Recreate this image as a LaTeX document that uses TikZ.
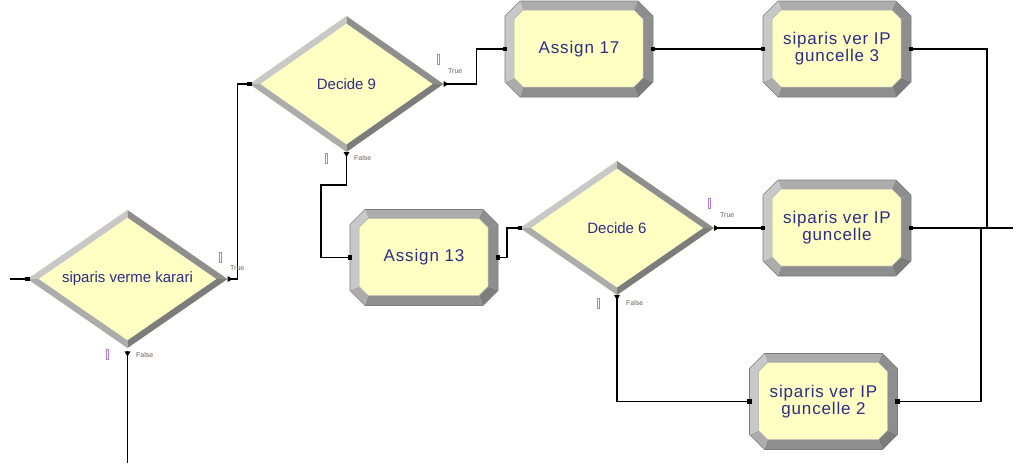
\documentclass[tikz,border=0pt]{standalone}
\usepackage{fontspec}
\setmainfont{Liberation Sans}
\newfontfamily\boxfont[LetterSpace=5]{Liberation Sans}
\usetikzlibrary{shapes.geometric,calc}

\definecolor{arenaYellow}{RGB}{255,255,196}
\definecolor{arenaText}{RGB}{45,45,135}
\definecolor{labelGray}{RGB}{110,95,85}
\definecolor{markViolet}{RGB}{175,125,215}
\definecolor{bevLight}{RGB}{200,200,200}
\definecolor{bevMid}{RGB}{172,172,172}
\definecolor{bevDark}{RGB}{142,142,142}
\definecolor{bevDarker}{RGB}{124,124,124}

\tikzset{
  decnode/.style={diamond, draw=none, inner sep=0pt, outer sep=0pt,
    text=arenaText, font=\fontsize{15}{16}\selectfont},
  procnode/.style={rectangle, draw=none, inner sep=0pt, outer sep=0pt,
    minimum width=148pt, minimum height=96pt, align=center,
    text=arenaText, font=\boxfont\fontsize{17}{17}\selectfont},
  conn/.style={line width=1.3pt, black},
  branchlabel/.style={inner sep=0pt, anchor=west, text=labelGray,
    font=\fontsize{7}{7}\selectfont},
  portmark/.style={draw=markViolet, line width=0.8pt},
}

% Decide module: name, x, y, half width, half height, text
\newcommand\decidebox[6]{%
  \begin{scope}[shift={(#2,#3)}]
    \fill[arenaYellow] (-#4,0) -- (0,-#5) -- (#4,0) -- (0,#5) -- cycle;
    \fill[bevLight] (-#4,0) -- (0,-#5) -- (0,{-0.89*#5}) -- ({-0.89*#4},0) -- cycle;
    \fill[bevMid] (-#4,0) -- (0,#5) -- (0,{0.89*#5}) -- ({-0.89*#4},0) -- cycle;
    \fill[bevDark] (#4,0) -- (0,-#5) -- (0,{-0.89*#5}) -- ({0.89*#4},0) -- cycle;
    \fill[bevDarker] (#4,0) -- (0,#5) -- (0,{0.89*#5}) -- ({0.89*#4},0) -- cycle;
  \end{scope}
  \node[decnode, minimum width={2*#4pt}, minimum height={2*#5pt}] (#1) at (#2,#3) {#6};
}

% Process module with bevelled octagonal frame: name, x, y, text
\newcommand\procbox[4]{%
  \begin{scope}[shift={(#2,#3)}]
    \coordinate (o1) at (-59,-48); \coordinate (o2) at (59,-48);
    \coordinate (o3) at (74,-33);  \coordinate (o4) at (74,33);
    \coordinate (o5) at (59,48);   \coordinate (o6) at (-59,48);
    \coordinate (o7) at (-74,33);  \coordinate (o8) at (-74,-33);
    \coordinate (i1) at (-56,-39); \coordinate (i2) at (55,-39);
    \coordinate (i3) at (64,-30);  \coordinate (i4) at (64,29);
    \coordinate (i5) at (55,38);   \coordinate (i6) at (-56,38);
    \coordinate (i7) at (-65,29);  \coordinate (i8) at (-65,-30);
    \fill[bevMid]    (o1) -- (o2) -- (i2) -- (i1) -- cycle;
    \fill[bevDark]   (o2) -- (o3) -- (i3) -- (i2) -- cycle;
    \fill[bevDark]   (o3) -- (o4) -- (i4) -- (i3) -- cycle;
    \fill[bevDarker] (o4) -- (o5) -- (i5) -- (i4) -- cycle;
    \fill[bevDark]   (o5) -- (o6) -- (i6) -- (i5) -- cycle;
    \fill[bevMid]    (o6) -- (o7) -- (i7) -- (i6) -- cycle;
    \fill[bevLight]  (o7) -- (o8) -- (i8) -- (i7) -- cycle;
    \fill[bevLight]  (o8) -- (o1) -- (i1) -- (i8) -- cycle;
    \draw[bevDarker, line width=0.6pt] (o1) -- (o2) -- (o3) -- (o4) -- (o5) -- (o6) -- (o7) -- (o8) -- cycle;
    \filldraw[fill=arenaYellow, draw=bevMid, line width=0.5pt]
      (i1) -- (i2) -- (i3) -- (i4) -- (i5) -- (i6) -- (i7) -- (i8) -- cycle;
  \end{scope}
  \node[procnode] (#1) at (#2,#3) {#4};
}

% connection end markers
\newcommand\entrymark[1]{\fill ($(#1)+(-2.2,-2.2)$) rectangle ($(#1)+(2.2,2.2)$);}
\newcommand\exitright[1]{\fill ($(#1)+(0,-3)$) -- ($(#1)+(5,0)$) -- ($(#1)+(0,3)$) -- cycle;}
\newcommand\exitdown[1]{\fill ($(#1)+(-3,0)$) -- ($(#1)+(0,5)$) -- ($(#1)+(3,0)$) -- cycle;}

\begin{document}
\begin{tikzpicture}[x=1pt,y=-1pt]
\useasboundingbox[fill=white] (0,0) rectangle (1016,463);

% modules
\decidebox{d1}{127.5}{279}{100}{69}{siparis verme karari}
\decidebox{d9}{346.5}{84}{97}{68}{Decide 9}
\decidebox{d6}{617}{228}{97}{67}{Decide 6}
\procbox{a17}{579}{49}{Assign 17}
\procbox{g3}{837}{49}{siparis ver IP\\guncelle 3}
\procbox{a13}{424}{257.5}{Assign 13}
\procbox{g1}{837}{228}{siparis ver IP\\guncelle}
\procbox{g2}{823.5}{401.5}{siparis ver IP\\guncelle 2}

% free connector ends
\coordinate (src) at (10,279);
\coordinate (sinkdown) at (127.5,463);
\coordinate (sinkright) at (1013,228);
\coordinate (joinA) at (987,228);
\coordinate (joinB) at (981,228);

% connectors
\draw[conn] (src) -- (d1.west);
\draw[conn] (d1.east) -- ++(10,0) |- (d9.west);
\draw[conn] (d1.south) -- (sinkdown);
\draw[conn] (d9.east) -- ++(33,0) |- (a17.west);
\draw[conn] (d9.south) -- ++(0,33) -| ($(a13.west)+(-29,0)$) -- (a13.west);
\draw[conn] (a13.east) -- ++(9,0) |- (d6.west);
\draw[conn] (d6.east) -- (g1.west);
\draw[conn] (d6.south) |- (g2.west);
\draw[conn] (a17.east) -- (g3.west);
\draw[conn] (g3.east) -| (joinA);
\draw[conn] (g1.east) -- (sinkright);
\draw[conn] (g2.east) -| (joinB);

% port markers
\entrymark{d1.west}
\entrymark{d9.west}
\entrymark{d6.west}
\entrymark{a17.west}
\entrymark{a13.west}
\entrymark{g3.west}
\entrymark{g1.west}
\entrymark{g2.west}
\entrymark{a17.east}
\entrymark{g3.east}
\entrymark{a13.east}
\entrymark{g1.east}
\entrymark{g2.east}
\exitright{d1.east}
\exitright{d9.east}
\exitright{d6.east}
\exitdown{d1.south}
\exitdown{d9.south}
\exitdown{d6.south}

% branch labels
\node[branchlabel] (t1) at (230,268) {True};
\node[branchlabel] (f1) at (136,355) {False};
\node[branchlabel] (t9) at (448,71) {True};
\node[branchlabel] (f9) at (354,158) {False};
\node[branchlabel] (t6) at (720,215) {True};
\node[branchlabel] (f6) at (626,303) {False};

% small bracket marks beside the branch exits
\draw[portmark] (219.5,252) rectangle ++(2.2,10);
\draw[portmark] (106.5,349) rectangle ++(2.2,10);
\draw[portmark] (437.5,54) rectangle ++(2.2,10);
\draw[portmark] (325,153) rectangle ++(2.2,10);
\draw[portmark] (708,198) rectangle ++(2.2,10);
\draw[portmark] (597,298) rectangle ++(2.2,10);
\end{tikzpicture}
\end{document}
